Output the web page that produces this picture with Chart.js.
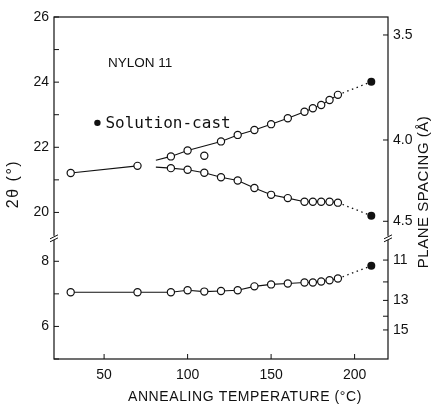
<!DOCTYPE html>
<html>
<head>
<meta charset="utf-8">
<script src="https://cdn.jsdelivr.net/npm/chart.js@4.4.0/dist/chart.umd.min.js"></script>
<style>
html, body { margin: 0; padding: 0; background: #fff; }
#wrap { width: 432px; height: 408px; }
</style>
</head>
<body>
<div id="wrap"><canvas id="nylonChart" width="432" height="408"></canvas></div>
<script>
// annealed films, 2theta in degrees
const earlyTemps = [30, 70];
const earlyAngles = [21.21, 21.43];

const upperTemps = [90, 100, 120, 130, 140, 150, 160, 170, 175, 180, 185, 190];
const upperAngles = [21.72, 21.90, 22.18, 22.38, 22.53, 22.71, 22.89, 23.09, 23.20, 23.30, 23.45, 23.61];

const lowerTemps = [90, 100, 110, 120, 130, 140, 150, 160, 170, 175, 180, 185, 190];
const lowerAngles = [21.36, 21.31, 21.22, 21.08, 20.98, 20.75, 20.54, 20.44, 20.33, 20.33, 20.33, 20.33, 20.30];

const strayTemps = [110];
const strayAngles = [21.74];

const smallTemps = [30, 70, 90, 100, 110, 120, 130, 140, 150, 160, 170, 175, 180, 185, 190];
const smallAngles = [7.05, 7.05, 7.05, 7.11, 7.07, 7.09, 7.11, 7.23, 7.29, 7.32, 7.35, 7.35, 7.38, 7.42, 7.47];

// solution-cast film
const castTemp = 210;
const castAngles = [24.01, 19.90, 7.86];

// the drawn curves of the two split reflections start here
const splitStartTemp = 81;
const upperStartAngle = 21.6;
const lowerStartAngle = 21.39;

// axes
const tempTicks = [50, 100, 150, 200];
const angleTicks = [5, 6, 7, 8, 20, 21, 22, 23, 24, 25, 26];
const angleLabels = ['', '6', '', '8', '20', '', '22', '', '24', '', '26'];
const spacingTicks = [3.5, 4.0, 4.5, 11, 12, 13, 14, 15];
const spacingLabels = ['3.5', '4.0', '4.5', '11', '', '13', '', '15'];

const LAMBDA = 1.5418;   // Cu K-alpha, in Å
const GAP = 10.5;        // degrees cut out between the two panels
const BREAK_AT = 8.72;   // where the axis break is marked (folded units)

function fold(angle) { return angle > 14 ? angle - GAP : angle; }
function spacingToAngle(d) { return 2 * Math.asin(LAMBDA / (2 * d)) * 180 / Math.PI; }
function pts(temps, angles) { return temps.map((t, i) => ({ x: t, y: fold(angles[i]) })); }

const black = '#111';
const openPoints = {
    pointRadius: 3.6,
    pointBorderWidth: 1.2,
    pointBackgroundColor: '#fff',
    pointBorderColor: black,
    borderColor: black,
    borderWidth: 1.1,
    showLine: true
};
const skipFirst = ctx => ctx.dataIndex === 0 ? 0 : 3.6;

const castLines = [upperAngles, lowerAngles, smallAngles].map((arr, i) => ({
    data: [{ x: 190, y: fold(arr[arr.length - 1]) }, { x: castTemp, y: fold(castAngles[i]) }],
    showLine: true,
    borderColor: black,
    borderWidth: 1.3,
    borderDash: [1.5, 3.5],
    pointRadius: ctx => ctx.dataIndex === 1 ? 4 : 0,
    pointBackgroundColor: black,
    pointBorderColor: black,
    pointBorderWidth: 0
}));

const tickFont = { family: 'Liberation Sans', size: 14 };

// frame, inward tick marks, axis breaks, titles and the label
const decorations = {
    id: 'decorations',
    afterDraw(chart) {
        const { ctx, chartArea: a, scales } = chart;
        ctx.save();
        ctx.strokeStyle = black;
        ctx.fillStyle = black;
        ctx.lineWidth = 1.2;
        ctx.strokeRect(a.left, a.top, a.right - a.left, a.bottom - a.top);

        ctx.lineWidth = 1;
        ctx.beginPath();
        scales.y.ticks.forEach(t => {
            const y = scales.y.getPixelForValue(t.value);
            ctx.moveTo(a.left, y); ctx.lineTo(a.left + 5, y);
        });
        scales.y2.ticks.forEach(t => {
            const y = scales.y2.getPixelForValue(t.value);
            ctx.moveTo(a.right, y); ctx.lineTo(a.right - 5, y);
        });
        scales.x.ticks.forEach(t => {
            const x = scales.x.getPixelForValue(t.value);
            ctx.moveTo(x, a.bottom); ctx.lineTo(x, a.bottom - 5);
        });
        ctx.stroke();

        // axis breaks
        const by = scales.y.getPixelForValue(BREAK_AT);
        [a.left, a.right].forEach(x => {
            ctx.fillStyle = '#fff';
            ctx.fillRect(x - 2, by - 2, 4, 4);
            ctx.beginPath();
            ctx.moveTo(x - 4, by + 1); ctx.lineTo(x + 4, by - 3);
            ctx.moveTo(x - 4, by + 4); ctx.lineTo(x + 4, by);
            ctx.stroke();
        });
        ctx.fillStyle = black;

        // axis titles
        ctx.textBaseline = 'middle';
        ctx.textAlign = 'center';
        ctx.font = '14px "Liberation Sans"';
        ctx.letterSpacing = '0.6px';
        ctx.fillText('ANNEALING TEMPERATURE (°C)', 245, 397);
        ctx.letterSpacing = '0px';

        ctx.save();
        ctx.translate(14, 184);
        ctx.rotate(-Math.PI / 2);
        ctx.font = '16px "Liberation Sans"';
        ctx.letterSpacing = '1.5px';
        ctx.fillText('2θ (°)', 0, 0);
        ctx.restore();

        ctx.save();
        ctx.translate(424, 192);
        ctx.rotate(-Math.PI / 2);
        ctx.font = '15px "Liberation Sans"';
        ctx.letterSpacing = '0.5px';
        ctx.fillText('PLANE SPACING (Å)', 0, 0);
        ctx.restore();

        // sample name and key
        ctx.textAlign = 'left';
        ctx.font = '13.5px "Liberation Sans"';
        ctx.fillText('NYLON 11', 108, 63);

        const kx = scales.x.getPixelForValue(46);
        const ky = scales.y.getPixelForValue(fold(22.75));
        ctx.beginPath();
        ctx.arc(kx, ky, 3.2, 0, Math.PI * 2);
        ctx.fill();
        ctx.font = '16px "DejaVu Sans Mono"';
        ctx.fillText('Solution-cast', kx + 8, ky + 1);
        ctx.restore();
    }
};

new Chart(document.getElementById('nylonChart'), {
    type: 'scatter',
    data: {
        datasets: [
            { data: pts(earlyTemps, earlyAngles), ...openPoints },
            { data: pts([splitStartTemp, ...upperTemps], [upperStartAngle, ...upperAngles]), ...openPoints, pointRadius: skipFirst },
            { data: pts([splitStartTemp, ...lowerTemps], [lowerStartAngle, ...lowerAngles]), ...openPoints, pointRadius: skipFirst },
            { data: pts(strayTemps, strayAngles), ...openPoints, showLine: false },
            { data: pts(smallTemps, smallAngles), ...openPoints },
            ...castLines
        ]
    },
    options: {
        responsive: false,
        animation: false,
        devicePixelRatio: 1,
        layout: { padding: { top: 17, left: 0, right: 0, bottom: 0 } },
        plugins: { legend: { display: false }, tooltip: { enabled: false } },
        scales: {
            x: {
                type: 'linear',
                min: 20,
                max: 220,
                afterBuildTicks: s => { s.ticks = tempTicks.map(v => ({ value: v })); },
                afterFit: s => { s.height = 49; },
                grid: { display: false, drawTicks: false },
                border: { display: false },
                ticks: { font: tickFont, color: black, padding: 8, autoSkip: false, maxRotation: 0, callback: v => String(v) }
            },
            y: {
                type: 'linear',
                position: 'left',
                min: 5,
                max: 15.5,
                afterBuildTicks: s => { s.ticks = angleTicks.map(v => ({ value: fold(v) })); },
                afterFit: s => { s.width = 54; },
                grid: { display: false, drawTicks: false },
                border: { display: false },
                ticks: { font: tickFont, color: black, padding: 5, autoSkip: false, callback: (v, i) => angleLabels[i] }
            },
            y2: {
                type: 'linear',
                position: 'right',
                min: 5,
                max: 15.5,
                afterBuildTicks: s => { s.ticks = spacingTicks.map(d => ({ value: fold(spacingToAngle(d)) })); },
                afterFit: s => { s.width = 44; },
                grid: { display: false, drawTicks: false },
                border: { display: false },
                ticks: { font: tickFont, color: black, padding: 5, autoSkip: false, callback: (v, i) => spacingLabels[i] }
            }
        }
    },
    plugins: [decorations]
});
</script>
</body>
</html>
